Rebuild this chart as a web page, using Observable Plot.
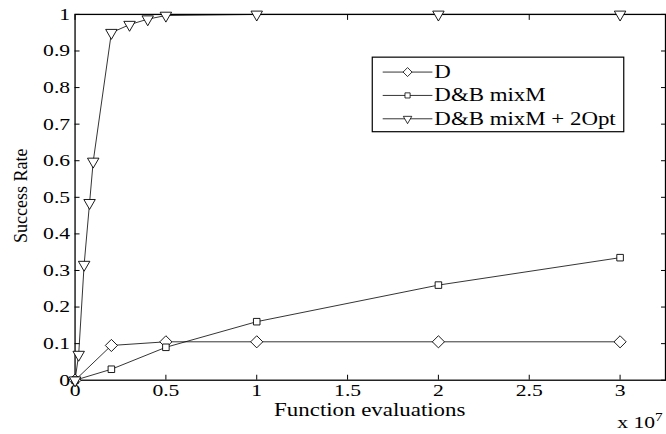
<!DOCTYPE html>
<html><head><meta charset="utf-8">
<script src="https://cdn.jsdelivr.net/npm/d3@7"></script>
<script src="https://cdn.jsdelivr.net/npm/@observablehq/plot@0.6"></script>
<style>
html,body{margin:0;padding:0;background:#fff;overflow:hidden;width:666px;height:434px;}
#chart{position:relative;width:666px;height:434px;overflow:hidden;}
#chart svg text{font-family:"Liberation Serif","Times New Roman",serif;font-weight:normal;}
</style></head>
<body><div id="chart"></div>
<script>
const seriesNames = ["D", "D&B mixM", "D&B mixM + 2Opt"];
const dX = [0, 0.2, 0.5, 1, 2, 3];
const dY = [0, 0.095, 0.105, 0.105, 0.105, 0.105];
const mX = [0, 0.2, 0.5, 1, 2, 3];
const mY = [0, 0.03, 0.09, 0.16, 0.26, 0.335];
const oX = [0, 0.02, 0.05, 0.08, 0.1, 0.2, 0.3, 0.4, 0.5, 1, 2, 3];
const oY = [0, 0.07, 0.316, 0.485, 0.598, 0.95, 0.972, 0.987, 0.997, 1, 1, 1];
const xTicks = [0, 0.5, 1, 1.5, 2, 2.5, 3];
const yTicks = [0, 0.1, 0.2, 0.3, 0.4, 0.5, 0.6, 0.7, 0.8, 0.9, 1];

const toRows = (xs, ys, s) => xs.map((x, i) => ({x, y: ys[i], s}));
const D = toRows(dX, dY, seriesNames[0]);
const M = toRows(mX, mY, seriesNames[1]);
const O = toRows(oX, oY, seriesNames[2]);

const font = '"Liberation Serif", "Times New Roman", serif';
const fmt = d => String(+d.toFixed(2));
const STRETCH = 1.28;

const plot = Plot.plot({
  width: 670, height: 434,
  marginLeft: 75, marginRight: 1, marginTop: 14, marginBottom: 52,
  style: {fontFamily: font, fontSize: "17px", color: "#000", background: "#fff", overflow: "visible"},
  x: {domain: [0, 3.25]},
  y: {domain: [0, 1]},
  marks: [
    Plot.axisX({ticks: xTicks, tickSize: -5, tickPadding: 9, tickFormat: fmt, label: null, fontSize: 17}),
    Plot.axisX({anchor: "top", ticks: xTicks, tickSize: -5, tickFormat: () => "", label: null}),
    Plot.axisY({ticks: yTicks, tickSize: -5, tickPadding: 10, tickFormat: fmt, label: null, fontSize: 17}),
    Plot.axisY({anchor: "right", ticks: yTicks, tickSize: -5, tickFormat: () => "", label: null}),
    Plot.frame({stroke: "#000", strokeWidth: 1.3}),
    Plot.line(D, {x: "x", y: "y", stroke: "#000", strokeWidth: 0.8}),
    Plot.line(M, {x: "x", y: "y", stroke: "#000", strokeWidth: 0.8}),
    Plot.line(O, {x: "x", y: "y", stroke: "#000", strokeWidth: 0.8}),
    Plot.dot(D, {x: "x", y: "y", symbol: "diamond2", r: 5.5, fill: "#fff", stroke: "#000", strokeWidth: 0.9}),
    Plot.dot(M, {x: "x", y: "y", symbol: "square2", r: 4.2, fill: "#fff", stroke: "#000", strokeWidth: 0.9}),
    Plot.dot(O, {x: "x", y: "y", symbol: "triangle2", r: 5.5, rotate: 180, fill: "#fff", stroke: "#000", strokeWidth: 0.9})
  ]
});
document.getElementById("chart").appendChild(plot);

const svg = d3.select(plot);
// stretch the tick labels horizontally (reference has wide glyphs)
svg.selectAll("text").each(function() {
  this.style.fontSize = "17px";
  const len = this.getComputedTextLength();
  if (len > 0) { this.setAttribute("textLength", len * STRETCH); this.setAttribute("lengthAdjust", "spacingAndGlyphs"); }
});
function addText(sel, size) {
  sel.style("font-size", size + "px");
  const len = sel.node().getComputedTextLength();
  sel.attr("textLength", len * STRETCH).attr("lengthAdjust", "spacingAndGlyphs");
  return sel;
}
// axis titles
addText(svg.append("text").attr("x", 372).attr("y", 419).attr("text-anchor", "middle").text("Function evaluations"), 18);
svg.append("text").attr("transform", "translate(27,197) scale(1.2,1) rotate(-90)").attr("text-anchor", "middle")
  .style("font-size", "16px").attr("textLength", 95).attr("lengthAdjust", "spacingAndGlyphs").text("Success Rate");
const ex = svg.append("text").attr("transform", `translate(621,431) scale(${STRETCH},1)`).attr("text-anchor", "start").style("font-size", "17px");
ex.append("tspan").text("x 10");
ex.append("tspan").attr("dy", -7).style("font-size", "12px").text("7");

// legend
const lg = svg.append("g").attr("text-anchor", "start");
lg.append("rect").attr("x", 374.5).attr("y", 57.5).attr("width", 253).attr("height", 75)
  .attr("fill", "#fff").attr("stroke", "#000").attr("stroke-width", 1.2);
const syms = [d3.symbolDiamond2, d3.symbolSquare2, d3.symbolTriangle2];
const sizes = [26, 17, 26];
seriesNames.forEach((name, i) => {
  const cy = 72.5 + i * 23.5;
  lg.append("line").attr("x1", 385).attr("x2", 435).attr("y1", cy).attr("y2", cy).attr("stroke", "#000").attr("stroke-width", 0.8);
  lg.append("path").attr("d", d3.symbol(syms[i], sizes[i] * 2)())
    .attr("transform", `translate(410,${cy}) rotate(${i === 2 ? 180 : 0})`)
    .attr("fill", "#fff").attr("stroke", "#000").attr("stroke-width", 0.8);
  addText(lg.append("text").attr("x", 437).attr("y", cy + 6).text(name), 18);
});
</script>
</body></html>
